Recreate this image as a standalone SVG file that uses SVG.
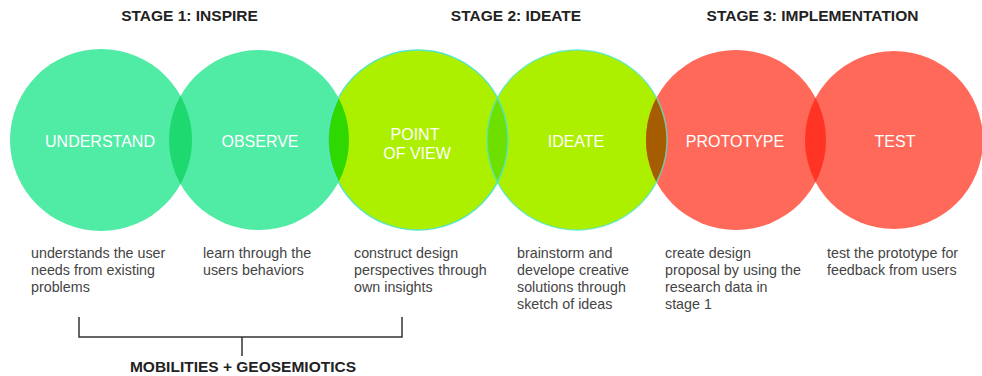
<svg xmlns="http://www.w3.org/2000/svg" width="982" height="376" viewBox="0 0 982 376">
<style>
.title{font-family:"Liberation Sans",Arial,sans-serif;font-weight:bold;font-size:15.5px;fill:#222;text-anchor:middle}
.lbl{font-family:"Liberation Sans",Arial,sans-serif;font-size:16px;fill:#fff;text-anchor:middle}
.desc{font-family:"Liberation Sans",Arial,sans-serif;font-size:14.3px;fill:#444}
.mint{fill:#50EBA5}
.lime{fill:#ACF000}
.red{fill:#FF695A}
.ring{fill:none;stroke:#55E6C4;stroke-width:1.4}
.br{fill:none;stroke:#333;stroke-width:1.5}
</style>
<defs>
<clipPath id="k2"><circle cx="259" cy="140" r="90"/></clipPath>
<clipPath id="k3"><circle cx="418" cy="140" r="90"/></clipPath>
<clipPath id="k4"><circle cx="577" cy="140" r="90"/></clipPath>
<clipPath id="k5"><circle cx="736" cy="140" r="90"/></clipPath>
<clipPath id="k6"><circle cx="894" cy="140" r="89"/></clipPath>
</defs>
<rect width="982" height="376" fill="#fff"/>
<g id="titles">
<text class="title" x="189.5" y="21">STAGE 1: INSPIRE</text>
<text class="title" x="516" y="21">STAGE 2: IDEATE</text>
<text class="title" x="812.5" y="21">STAGE 3: IMPLEMENTATION</text>
</g>
<g id="node-understand">
<circle class="mint" cx="101" cy="140" r="91"/>
<text class="lbl" x="100" y="147">UNDERSTAND</text>
<text class="desc" x="31" y="258">understands the user</text>
<text class="desc" x="31" y="275">needs from existing</text>
<text class="desc" x="31" y="292">problems</text>
</g>
<g id="node-observe">
<circle class="mint" cx="259" cy="140" r="90"/>
<text class="lbl" x="260" y="147">OBSERVE</text>
<text class="desc" x="203" y="258">learn through the</text>
<text class="desc" x="203" y="275">users behaviors</text>
</g>
<g id="node-pov">
<circle class="lime" cx="418" cy="140" r="90"/>
<text class="lbl" x="415" y="140">POINT</text>
<text class="lbl" x="417" y="159">OF VIEW</text>
<text class="desc" x="354" y="258">construct design</text>
<text class="desc" x="354" y="275">perspectives through</text>
<text class="desc" x="354" y="292">own insights</text>
</g>
<g id="node-ideate">
<circle class="lime" cx="577" cy="140" r="90"/>
<text class="lbl" x="576" y="147">IDEATE</text>
<text class="desc" x="517" y="258">brainstorm and</text>
<text class="desc" x="517" y="275">develope creative</text>
<text class="desc" x="517" y="292">solutions through</text>
<text class="desc" x="517" y="309">sketch of ideas</text>
</g>
<g id="node-prototype">
<circle class="red" cx="736" cy="140" r="90"/>
<text class="lbl" x="735" y="147">PROTOTYPE</text>
<text class="desc" x="665" y="258">create design</text>
<text class="desc" x="665" y="275">proposal by using the</text>
<text class="desc" x="665" y="292">research data in</text>
<text class="desc" x="665" y="309">stage 1</text>
</g>
<g id="node-test">
<circle class="red" cx="894" cy="140" r="89"/>
<text class="lbl" x="895" y="147">TEST</text>
<text class="desc" x="827" y="258">test the prototype for</text>
<text class="desc" x="827" y="275">feedback from users</text>
</g>
<g id="overlaps">
<circle cx="101" cy="140" r="91" fill="#1DD96F" clip-path="url(#k2)"/>
<circle cx="259" cy="140" r="90" fill="#2ED800" clip-path="url(#k3)"/>
<circle cx="418" cy="140" r="90" fill="#6DE000" clip-path="url(#k4)"/>
<circle cx="577" cy="140" r="90" fill="#A65C00" clip-path="url(#k5)"/>
<circle cx="736" cy="140" r="90" fill="#FF3424" clip-path="url(#k6)"/>
<circle class="ring" cx="418" cy="140" r="90"/>
<circle class="ring" cx="577" cy="140" r="90" opacity="0.8"/>
</g>
<g id="connectors">
<path class="br" d="M79 317 V337 H402 V317 M242 337 V356"/>
</g>
<g id="node-mobilities">
<text class="title" x="243" y="372">MOBILITIES + GEOSEMIOTICS</text>
</g>
</svg>
